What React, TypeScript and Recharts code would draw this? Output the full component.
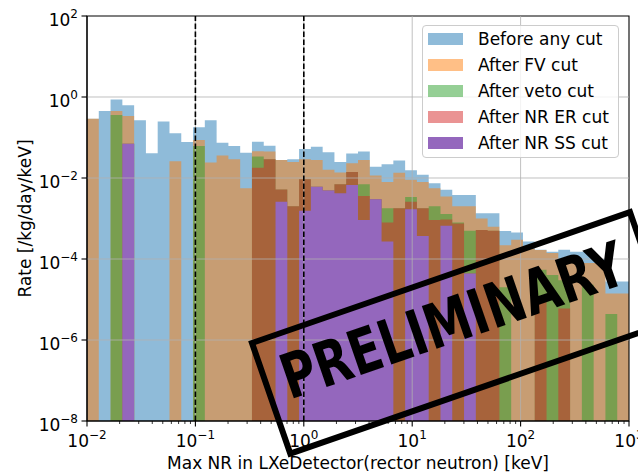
import React from 'react';
import { AreaChart, Area, XAxis, YAxis, ReferenceLine, ReferenceArea, Legend } from 'recharts';

const FONT = '"DejaVu Sans", sans-serif';

// Histogram binning: 46 log-spaced bins from 10^-2 to 10^3 keV
const BIN_LOG_MIN = -2;
const BIN_LOG_MAX = 3;
const N_BINS = 46;

// Rates per bin [/kg/day/keV] (0 = empty bin)
const BEFORE = [0.29, 0.45, 0.87, 0.63, 0.265, 0.041, 0.25, 0.127, 0.077, 0.18,
  0.265, 0.074, 0.062, 0.042, 0.079, 0.063, 0.028, 0.029, 0.052, 0.059,
  0.043, 0.025, 0.040, 0.045, 0.019, 0.022, 0.027, 0.0155, 0.012, 0.0074,
  0.0051, 0.0038, 0.0038, 0.00134, 0.00134, 0.00049, 0.00045, 0.00027, 0.00017, 0.00015,
  0.00017, 0.00015, 0.00015, 0.0001, 0.000028, 0.000028];
const AFTER_FV = [0.29, 0, 0.45, 0.34, 0, 0, 0, 0.026, 0, 0.087,
  0.024, 0.036, 0.029, 0.0056, 0.046, 0.045, 0.028, 0.025, 0.029, 0.028,
  0.016, 0.0136, 0.023, 0.028, 0.0116, 0.008, 0.0135, 0.009, 0.008, 0.0056,
  0.0035, 0.002, 0.002, 0.001, 0.00063, 0.00022, 0.0003, 0.00018, 0.000166, 0.00014,
  0.0001, 0.000095, 0.00008, 0.00008, 0.000014, 0.000014];
const AFTER_VETO = [0, 0, 0.36, 0.07, 0, 0, 0, 0, 0, 0.062,
  0, 0, 0, 0, 0.034, 0.029, 0.0052, 0.002, 0.0093, 0.0061,
  0.0049, 0.007, 0.0141, 0.007, 0.003, 0.0018, 0.0018, 0.0034, 0.0018, 0.002,
  0.0013, 0.0008, 0.0005, 0.00052, 0.0005, 0.00002, 0, 0, 0.000054, 0.00004,
  0.00003, 0, 0.000023, 0, 0.0000044, 0];
const AFTER_NR_ER = [0, 0, 0, 0.07, 0, 0, 0, 0, 0, 0,
  0, 0, 0, 0, 0.018, 0.029, 0.0052, 0.002, 0.0093, 0.0061,
  0.0049, 0.007, 0.0141, 0.0036, 0.003, 0.0008, 0.0018, 0.0026, 0.0018, 0.00092,
  0.00095, 0.00075, 0.000044, 0.00052, 0.0005, 0, 0, 0, 0.00001, 0,
  0.000006, 0, 0, 0, 0, 0];
const AFTER_NR_SS = [0, 0, 0, 0.07, 0, 0, 0, 0, 0, 0,
  0, 0, 0, 0, 0, 0, 0.0026, 0, 0.00156, 0.0061,
  0.0049, 0.0042, 0.0067, 0.00092, 0.003, 0.00027, 0, 0.0017, 0.00037, 0,
  0.00066, 0, 0.000044, 0, 0, 0, 0, 0, 0, 0,
  0, 0, 0, 0, 0, 0];

const SERIES = [
  { key: 'before', name: 'Before any cut', color: '#1f77b4', opacity: 0.5, values: BEFORE },
  { key: 'fv', name: 'After FV cut', color: '#ff7f0e', opacity: 0.5, values: AFTER_FV },
  { key: 'veto', name: 'After veto cut', color: '#2ca02c', opacity: 0.5, values: AFTER_VETO },
  { key: 'er', name: 'After NR ER cut', color: '#d62728', opacity: 0.5, values: AFTER_NR_ER },
  { key: 'ss', name: 'After NR SS cut', color: '#9467bd', opacity: 1, values: AFTER_NR_SS },
];

const X_MAJOR = [0.01, 0.1, 1, 10, 100, 1000];
const X_MINOR_SUBS = [2, 3, 4, 5, 6, 7, 8, 9];
const Y_TICKS = [1e-8, 1e-6, 1e-4, 1e-2, 1, 100];
const X_GRID = [0.1, 1, 10, 100];
const Y_GRID = [1e-6, 1e-4, 1e-2, 1];
const CUT_LINES = [0.1, 1];

const X_LABEL = 'Max NR in LXeDetector(rector neutron) [keV]';
const Y_LABEL = 'Rate [/kg/day/keV]';
const STAMP = 'PRELIMINARY';

const LOG_FLOOR = 1e-12; // empty bins drawn below the visible range

const EDGES = Array.from({ length: N_BINS + 1 }, (_, k) =>
  Math.pow(10, BIN_LOG_MIN + ((BIN_LOG_MAX - BIN_LOG_MIN) * k) / N_BINS));

const DATA = EDGES.map((x, k) => {
  const i = Math.min(k, N_BINS - 1);
  const row: any = { x };
  SERIES.forEach((s) => { row[s.key] = s.values[i] > 0 ? s.values[i] : LOG_FLOOR; });
  return row;
});

const X_TICKS = [
  ...X_MAJOR,
  ...X_MAJOR.slice(0, -1).flatMap((d) => X_MINOR_SUBS.map((m) => m * d)),
].sort((a, b) => a - b);

const expLabel = (v: number) => {
  const e = Math.round(Math.log10(v));
  return e < 0 ? `\u2212${-e}` : `${e}`;
};

const XTick = (props: any) => {
  const { x, y, payload } = props;
  const v = payload.value;
  const lg = Math.log10(v);
  const major = Math.abs(lg - Math.round(lg)) < 1e-6;
  return (
    <g>
      <line x1={x} x2={x} y1={y} y2={y + (major ? 5.5 : 3)} stroke="#000" strokeWidth={major ? 1.1 : 0.8} />
      {major && (
        <text x={x} y={y + 25.5} textAnchor="middle" fontSize={17} fontFamily={FONT} fill="#000">
          <tspan>10</tspan>
          <tspan dy={-8} fontSize={12}>{expLabel(v)}</tspan>
        </text>
      )}
    </g>
  );
};

const YTick = (props: any) => {
  const { x, y, payload } = props;
  return (
    <g>
      <line x1={x - 5.5} x2={x} y1={y} y2={y} stroke="#000" strokeWidth={1.1} />
      <text x={x - 9} y={y + 9.5} textAnchor="end" fontSize={17} fontFamily={FONT} fill="#000">
        <tspan>10</tspan>
        <tspan dy={-8} fontSize={12}>{expLabel(payload.value)}</tspan>
      </text>
    </g>
  );
};

const LegendBox = () => (
  <div
    style={{
      position: 'relative', width: 197, height: 133, boxSizing: 'border-box',
      border: '1px solid #cccccc', borderRadius: 4, background: 'rgba(255,255,255,0.8)',
      fontFamily: FONT, fontSize: 17, color: '#000',
    }}
  >
    {SERIES.map((s, i) => (
      <div key={s.key} style={{ position: 'absolute', left: 0, top: 13.3 + 25.8 * i - 12, height: 24, width: 197 }}>
        <div style={{ position: 'absolute', left: 5, top: 6, width: 35, height: 12, background: s.color, opacity: s.opacity }} />
        <div style={{ position: 'absolute', left: 55, top: 0, lineHeight: '24px', whiteSpace: 'nowrap' }}>{s.name}</div>
      </div>
    ))}
  </div>
);

export default function App() {
  return (
    <div style={{ position: 'absolute', left: 0, top: 0, width: 638, height: 473, background: '#fff' }}>
      <AreaChart width={638} height={473} data={DATA} margin={{ top: 16, right: 9, bottom: 0, left: 0 }}>
        <XAxis
          dataKey="x" type="number" scale="log" domain={[0.01, 1000]} allowDataOverflow
          ticks={X_TICKS} interval={0} tick={<XTick />} tickLine={false} tickSize={0} tickMargin={0}
          height={52} axisLine={{ stroke: '#000', strokeWidth: 1.1 }}
          label={{
            content: (p: any) => {
              const vb = p.viewBox || {};
              return (
                <text x={(vb.x ?? 87) + (vb.width ?? 542) / 2} y={469} textAnchor="middle" fontSize={17} fontFamily={FONT} fill="#000">
                  {X_LABEL}
                </text>
              );
            },
          }}
        />
        <YAxis
          type="number" scale="log" domain={[1e-8, 100]} allowDataOverflow
          ticks={Y_TICKS} interval={0} tick={<YTick />} tickLine={false} tickSize={0} tickMargin={0}
          width={87} axisLine={{ stroke: '#000', strokeWidth: 1.1 }}
          label={{
            content: (p: any) => {
              const vb = p.viewBox || {};
              const cy = (vb.y ?? 16) + (vb.height ?? 405) / 2;
              return (
                <text transform={`translate(30.5, ${cy}) rotate(-90)`} textAnchor="middle" fontSize={17} fontFamily={FONT} fill="#000">
                  {Y_LABEL}
                </text>
              );
            },
          }}
        />
        {SERIES.map((s) => (
          <Area
            key={s.key} dataKey={s.key} name={s.name} type="stepAfter"
            fill={s.color} fillOpacity={s.opacity} stroke="none"
            dot={false} activeDot={false} isAnimationActive={false}
          />
        ))}
        {X_GRID.map((v) => (
          <ReferenceLine key={`gx${v}`} x={v} stroke="#b0b0b0" strokeOpacity={0.8} strokeWidth={1} />
        ))}
        {Y_GRID.map((v) => (
          <ReferenceLine key={`gy${v}`} y={v} stroke="#b0b0b0" strokeOpacity={0.8} strokeWidth={1} />
        ))}
        {CUT_LINES.map((v) => (
          <ReferenceLine key={`c${v}`} x={v} stroke="#000" strokeWidth={1.6} strokeDasharray="5.5 2.5" />
        ))}
        <ReferenceArea x1={0.01} x2={1000} y1={1e-8} y2={100} fill="none" stroke="#000" strokeWidth={1.1} fillOpacity={0} />
        <Legend
          layout="vertical" align="center" verticalAlign="middle"
          wrapperStyle={{ left: 422, top: 25, width: 197, height: 133 }}
          content={() => <LegendBox />}
        />
      </AreaChart>
      <svg width={638} height={473} style={{ position: 'absolute', left: 0, top: 0, pointerEvents: 'none' }}>
        <g transform="translate(252,343) rotate(-19.1)">
          <rect x={0} y={0} width={400} height={117} fill="none" stroke="#000" strokeWidth={6} />
          <text x={17} y={66} fontSize={62} fontWeight="bold" fontFamily={FONT} fill="#000"
            textLength={360} lengthAdjust="spacingAndGlyphs">
            {STAMP}
          </text>
        </g>
      </svg>
    </div>
  );
}
